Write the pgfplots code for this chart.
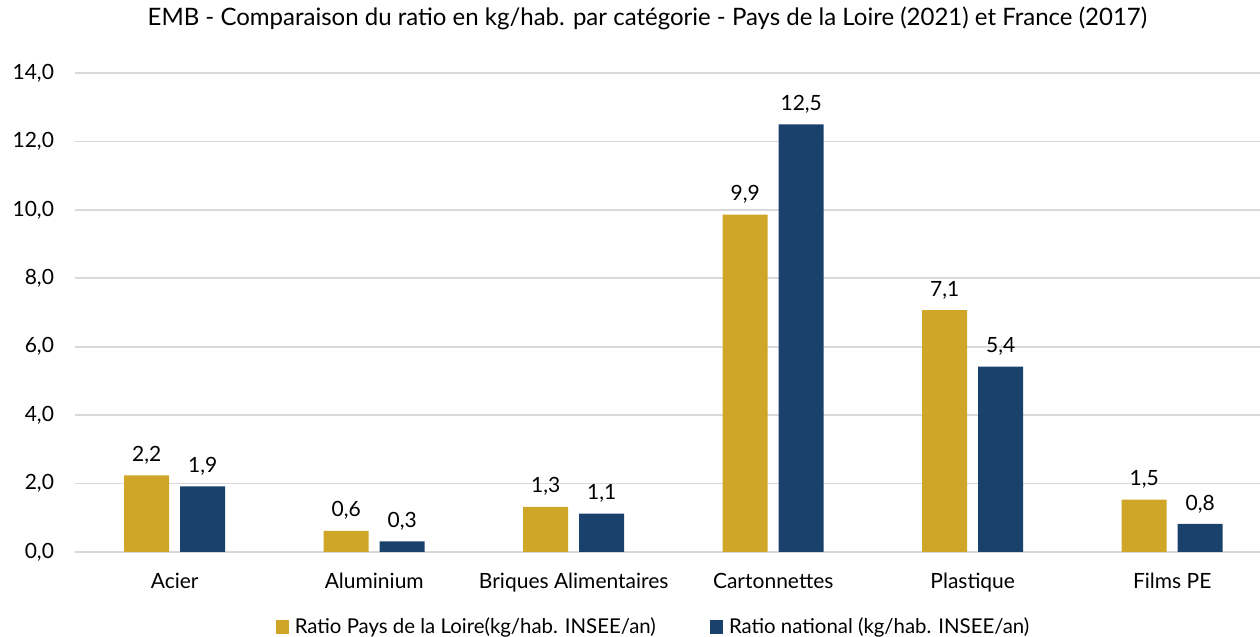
\documentclass[border=0pt]{standalone}
\usepackage{pgfplots}
\pgfplotsset{compat=1.18}
\usepackage{fontspec}
\setmainfont{Lato}
\definecolor{cyel}{RGB}{208,166,40}
\definecolor{cblue}{RGB}{26,64,108}
\definecolor{cgrid}{RGB}{217,217,217}
\begin{document}
\begin{tikzpicture}
\path[use as bounding box] (0,0) rectangle (630pt,318.5pt);
\begin{axis}[
  at={(37.5pt,42.5pt)}, anchor=south west,
  scale only axis, width=592.5pt, height=239.5pt,
  ybar, bar width=22.5pt,
  xmin=-0.5, xmax=5.44, ymin=0, ymax=14,
  axis line style={draw=none},
  ymajorgrids, grid style={cgrid, line width=0.8pt},
  ytick={0,2,...,14},
  xtick={0,...,5},
  xticklabels={Acier, Aluminium, Briques Alimentaires, Cartonnettes, Plastique, Films PE},
  major tick length=0pt,
  /pgf/number format/assume math mode=true,
  yticklabel={\pgfmathprintnumber[fixed, fixed zerofill, precision=1, use comma]{\tick}},
  yticklabel style={font=\fontsize{10.5}{12}\selectfont, xshift=-7pt},
  xticklabel style={font=\fontsize{10.5}{12}\selectfont, yshift=-7pt},
  title={EMB - Comparaison du ratio en kg/hab. par catégorie - Pays de la Loire (2021) et France (2017)},
  title style={at={(0.483,1)}, anchor=center, yshift=21.5pt, font=\fontsize{12}{14}\selectfont},
  nodes near coords={\pgfmathprintnumber[fixed, fixed zerofill, precision=1, use comma, assume math mode=true]{\pgfplotspointmeta}},
  nodes near coords style={font=\fontsize{10.5}{12}\selectfont, anchor=south, yshift=2pt, black},
  legend style={at={(0.489,0)}, anchor=center, yshift=-37.5pt, draw=none, legend columns=2,
    font=\fontsize{10.2}{12}\selectfont, /tikz/every even column/.append style={column sep=25pt},
    /tikz/every odd column/.append style={column sep=1pt}},
  legend image code/.code={\fill[#1] (0pt,-3.3pt) rectangle (6.6pt,3.3pt);},
  clip=false,
]
\addplot[fill=cyel, draw=none, bar shift=-14pt] coordinates {(0,2.24) (1,0.62) (2,1.32) (3,9.86) (4,7.07) (5,1.53)};
\addlegendentry{Ratio Pays de la Loire(kg/hab. INSEE/an)}
\addplot[fill=cblue, draw=none, bar shift=14pt] coordinates {(0,1.92) (1,0.31) (2,1.12) (3,12.5) (4,5.42) (5,0.82)};
\addlegendentry{Ratio national (kg/hab. INSEE/an)}
\end{axis}
\end{tikzpicture}
\end{document}
